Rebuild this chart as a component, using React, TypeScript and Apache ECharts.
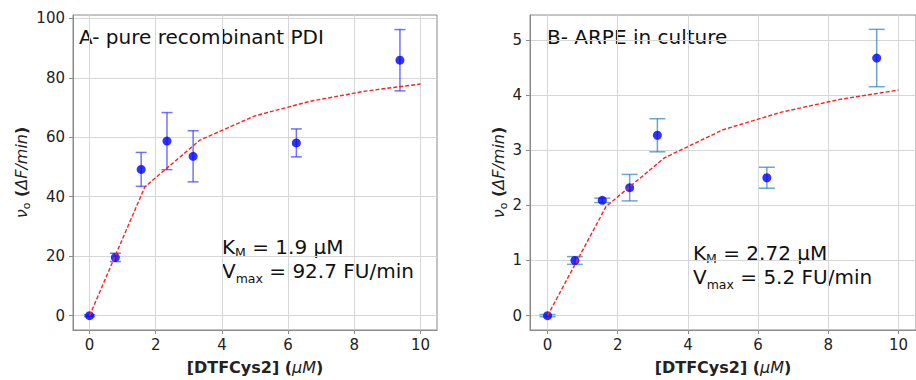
import React, { useEffect, useRef } from "react";
import * as echarts from "echarts";

// Substrate concentrations [DTFCys2] (µM)
const concentrations = [0, 0.78, 1.56, 2.34, 3.13, 6.25, 9.38];

// Panel A: pure recombinant PDI
const rateA = [0, 19.6, 49.2, 58.7, 53.6, 58.1, 85.9];
const errA = [0.3, 1.4, 5.7, 9.6, 8.6, 4.7, 10.3];

// Panel B: ARPE in culture
const rateB = [0, 1.0, 2.09, 2.32, 3.27, 2.5, 4.67];
const errB = [0.02, 0.07, 0.04, 0.24, 0.3, 0.19, 0.52];

// Fitted Michaelis-Menten curves
const fitX = [0, 1.67, 3.33, 5, 6.67, 8.33, 10];
const fitA = [0, 43.3, 59.0, 67.2, 72.1, 75.5, 77.9];
const fitB = [0, 1.98, 2.86, 3.37, 3.69, 3.92, 4.09];

const xTicks = [0, 2, 4, 6, 8, 10];
const yTicksA = [0, 20, 40, 60, 80, 100];
const yTicksB = [0, 1, 2, 3, 4, 5];

const FRAME = "#8a8a8a";
const GRIDC = "#d6d6d6";
const TXT = "#222222";
const MONO = "DejaVu Sans";
const ANN = "DejaVu Sans";
const CENTRAL = 0.346; // distance from baseline to the em centre, in em

function errorBarSeries(xIndex: number, color: string, cap: number, means: number[], errs: number[]) {
  return {
    type: "custom",
    xAxisIndex: xIndex,
    yAxisIndex: xIndex,
    z: 2,
    data: concentrations.map((c, i) => [c, means[i], errs[i]]),
    renderItem: (params: any, api: any) => {
      const x = api.value(0);
      const y = api.value(1);
      const e = api.value(2);
      const top = api.coord([x, y + e]);
      const bot = api.coord([x, y - e]);
      const st = { stroke: color, lineWidth: 1.5 };
      return {
        type: "group",
        children: [
          { type: "line", shape: { x1: top[0], y1: top[1], x2: bot[0], y2: bot[1] }, style: st },
          { type: "line", shape: { x1: top[0] - cap, y1: top[1], x2: top[0] + cap, y2: top[1] }, style: st },
          { type: "line", shape: { x1: bot[0] - cap, y1: bot[1], x2: bot[0] + cap, y2: bot[1] }, style: st },
        ],
      };
    },
  };
}

const nameRich = {
  b: { fontFamily: MONO, fontWeight: "bold", fontSize: 16, color: TXT, lineHeight: 20 },
  i: { fontFamily: MONO, fontStyle: "italic", fontSize: 16, color: TXT, lineHeight: 20 },
  s: { fontFamily: MONO, fontStyle: "normal", fontSize: 11, color: TXT, verticalAlign: "top", padding: [10, 0, 0, 0] },
};

function xAxisCfg(gridIndex: number) {
  return {
    type: "value",
    gridIndex,
    min: -0.5,
    max: 10.5,
    name: "{b|[DTFCys2] (}{i|μM}{b|)}",
    nameLocation: "middle",
    nameGap: 27,
    nameTextStyle: { rich: nameRich },
    axisLine: { show: true, onZero: false, lineStyle: { color: FRAME, width: 1 } },
    axisTick: { show: true, length: 4, lineStyle: { color: FRAME }, customValues: xTicks },
    axisLabel: { margin: 7, fontFamily: MONO, fontSize: 15, color: TXT, customValues: xTicks },
    splitLine: { show: true, lineStyle: { color: GRIDC, width: 1 } },
  };
}

function yAxisCfg(gridIndex: number, min: number, max: number, gap: number, ticks: number[]) {
  return {
    type: "value",
    gridIndex,
    min,
    max,
    name: "{i|ν}{s|o}{b| (}{i|ΔF/min}{b|)}",
    nameLocation: "middle",
    nameRotate: 90,
    nameGap: gap,
    nameTextStyle: { rich: nameRich },
    axisLine: { show: true, onZero: false, lineStyle: { color: FRAME, width: 1 } },
    axisTick: { show: true, length: 4, lineStyle: { color: FRAME }, customValues: ticks },
    axisLabel: { margin: 8, fontFamily: MONO, fontSize: 15, color: TXT, customValues: ticks },
    splitLine: { show: true, lineStyle: { color: GRIDC, width: 1 } },
  };
}

type Part = { t: string; size: number; drop: number };

let measureCtx: CanvasRenderingContext2D | null = null;
function textWidth(t: string, size: number) {
  if (!measureCtx) measureCtx = document.createElement("canvas").getContext("2d");
  if (!measureCtx) return t.length * size * 0.6;
  measureCtx.font = `${size}px "${ANN}"`;
  return measureCtx.measureText(t).width;
}

// One line of annotation text made of pieces (main text and subscripts) laid out left to right
function annotationLine(x: number, baseline: number, parts: Part[]) {
  let cx = x;
  return parts.map((p) => {
    const el = {
      type: "text",
      x: cx,
      y: baseline + p.drop - CENTRAL * p.size,
      silent: true,
      style: {
        text: p.t,
        font: `${p.size}px "${ANN}"`,
        fill: "#111111",
        align: "left",
        textAlign: "left",
        verticalAlign: "middle",
        textVerticalAlign: "middle",
      },
    };
    cx += textWidth(p.t, p.size);
    return el;
  });
}

export default function App() {
  const ref = useRef<HTMLDivElement>(null);
  useEffect(() => {
    if (!ref.current) return;
    const chart = echarts.init(ref.current, undefined, { renderer: "svg" });
    const M = 20;
    const S = 12.5;
    const graphic = [
      ...annotationLine(79, 44, [{ t: "A- pure recombinant PDI", size: M, drop: 0 }]),
      ...annotationLine(547, 44, [{ t: "B- ARPE in culture", size: M, drop: 0 }]),
      ...annotationLine(222, 254, [
        { t: "K", size: M, drop: 0 },
        { t: "M", size: S, drop: 2.5 },
        { t: " = 1.9 µM", size: M, drop: 0 },
      ]),
      ...annotationLine(222, 278, [
        { t: "V", size: M, drop: 0 },
        { t: "max", size: S, drop: 5 },
        { t: " = 92.7 FU/min", size: M, drop: 0 },
      ]),
      ...annotationLine(693, 260, [
        { t: "K", size: M, drop: 0 },
        { t: "M", size: S, drop: 2.5 },
        { t: " = 2.72 µM", size: M, drop: 0 },
      ]),
      ...annotationLine(693, 284, [
        { t: "V", size: M, drop: 0 },
        { t: "max", size: S, drop: 5 },
        { t: " = 5.2 FU/min", size: M, drop: 0 },
      ]),
    ];
    const option: any = {
      animation: false,
      backgroundColor: "#ffffff",
      grid: [
        { left: 73, top: 15, width: 364, height: 317, show: true, borderColor: FRAME, borderWidth: 1, backgroundColor: "transparent" },
        { left: 530, top: 15, width: 393, height: 317, show: true, borderColor: FRAME, borderWidth: 1, backgroundColor: "transparent" },
      ],
      xAxis: [xAxisCfg(0), xAxisCfg(1)],
      yAxis: [yAxisCfg(0, -4.8, 101.1, 38, yTicksA), yAxisCfg(1, -0.26, 5.45, 17, yTicksB)],
      series: [
        errorBarSeries(0, "rgba(40,40,255,0.65)", 5.5, rateA, errA),
        {
          type: "scatter",
          xAxisIndex: 0,
          yAxisIndex: 0,
          z: 3,
          symbol: "circle",
          symbolSize: 9,
          itemStyle: { color: "#0000ff" },
          data: concentrations.map((c, i) => [c, rateA[i]]),
        },
        {
          type: "line",
          xAxisIndex: 0,
          yAxisIndex: 0,
          z: 4,
          symbol: "none",
          lineStyle: { color: "#ff2020", width: 1.4, type: [4, 2] },
          data: fitX.map((x, i) => [x, fitA[i]]),
        },
        errorBarSeries(1, "rgba(31,119,180,0.65)", 8, rateB, errB),
        {
          type: "scatter",
          xAxisIndex: 1,
          yAxisIndex: 1,
          z: 3,
          symbol: "circle",
          symbolSize: 9,
          itemStyle: { color: "#0000ff" },
          data: concentrations.map((c, i) => [c, rateB[i]]),
        },
        {
          type: "line",
          xAxisIndex: 1,
          yAxisIndex: 1,
          z: 4,
          symbol: "none",
          lineStyle: { color: "#ff2020", width: 1.4, type: [4, 2] },
          data: fitX.map((x, i) => [x, fitB[i]]),
        },
      ],
      graphic,
    };
    chart.setOption(option);
    return () => chart.dispose();
  }, []);
  return <div ref={ref} style={{ position: "fixed", left: 0, top: 0, width: 916, height: 380 }} />;
}
